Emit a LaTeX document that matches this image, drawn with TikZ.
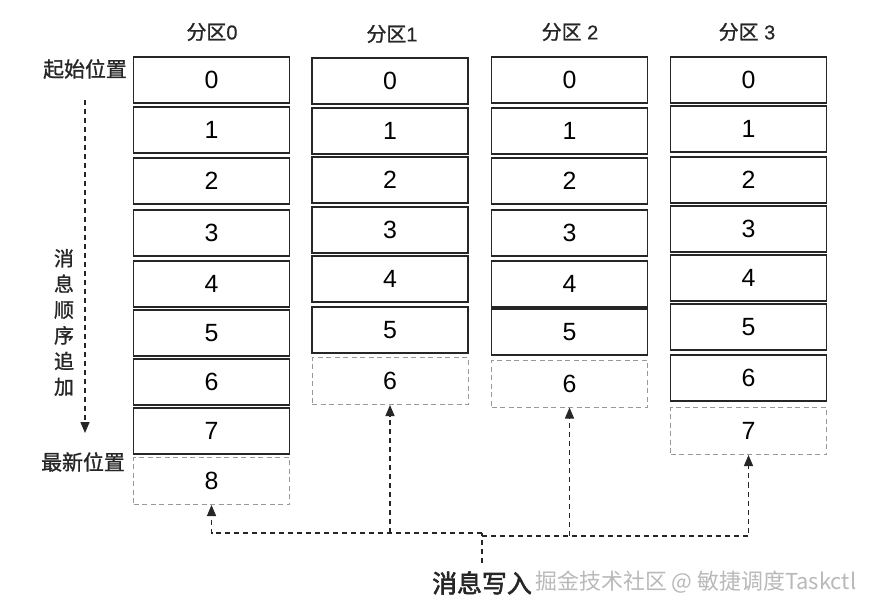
\documentclass[tikz,border=0pt]{standalone}
\usepackage{fontspec}
\setmainfont{Liberation Sans}
\newfontfamily\cjk{Noto Sans CJK SC}
\newfontfamily\cjkm[FakeBold=1.2]{Noto Sans CJK SC}
\newfontfamily\cjkb[FakeBold=2.2]{Noto Sans CJK SC}
\newfontfamily\latm[FakeBold=0.6]{Liberation Sans}
\usetikzlibrary{arrows.meta,shadows}
\begin{document}
\begin{tikzpicture}[x=1bp,y=-1bp,
  cell/.style={draw=black!85, line width=1.3bp, fill=white, minimum width=156bp, minimum height=46bp, inner sep=0pt,
    font=\fontsize{25}{25}\selectfont, drop shadow={shadow xshift=0.6bp, shadow yshift=-1.3bp, opacity=0.35}},
  newcell/.style={draw=gray!80, dash pattern=on 5bp off 3.5bp, line width=1bp, minimum width=156bp, minimum height=47bp, inner sep=0pt,
    font=\fontsize{25}{25}\selectfont},
  head/.style={font=\latm\fontsize{20}{20}\selectfont, text=black!85},
  side/.style={font=\cjkm\fontsize{21}{21}\selectfont, text=black!85},
  flowline/.style={dash pattern=on 5bp off 4bp, line width=1.3bp, draw=black!85},
  flow/.style={flowline, -{Triangle[width=9bp,length=11bp]}},
]
\useasboundingbox (0,0) rectangle (894,613);
\fill[white] (0,0) rectangle (894,613);

% headers
\node[head] (h0) at (212,32) {{\cjkm 分区}0};
\node[head] (h1) at (392,34) {{\cjkm 分区}1};
\node[head] (h2) at (570,32) {{\cjkm 分区} 2};
\node[head] (h3) at (747,32) {{\cjkm 分区} 3};

% column 0
\foreach \t [count=\i from 0] in {57,107,158,210,261,310,359,408}
  \node[cell] (c0b\i) at (211.5,\t+23) {\i};
\node[newcell] (c0b8) at (211.5,481) {8};
% column 1
\foreach \t [count=\i from 0] in {58,108,157,207,256,307}
  \node[cell] (c1b\i) at (390,\t+23) {\i};
\node[newcell] (c1b6) at (390,381) {6};
% column 2
\foreach \t [count=\i from 0] in {57,108,158,210,261,309}
  \node[cell] (c2b\i) at (569.5,\t+23) {\i};
\node[newcell] (c2b6) at (569.5,383.5) {6};
% column 3
\foreach \t [count=\i from 0] in {57,106,157,206,255,304,355}
  \node[cell] (c3b\i) at (748.5,\t+23) {\i};
\node[newcell] (c3b7) at (748.5,431) {7};

% left labels
\node[side] (start) at (85,69) {起始位置};
\node[side] (latest) at (83,462) {最新位置};
\node[font=\cjkm\fontsize{20}{25.8}\selectfont, align=center, text=black!85] (order) at (64,322.5) {消\\息\\顺\\序\\追\\加};
\coordinate (ls) at (85,100);
\coordinate (le) at (85,433);
\draw[flow] (ls) -- (le);

% bottom writer
\node[font=\cjkb\fontsize{25}{25}\selectfont, text=black!85] (w) at (482,583) {消息写入};
\node[anchor=west, font=\cjk\fontsize{22}{22}\selectfont, text=gray!55] (wm) at (532,582) {掘金技术社区 @ 敏捷调度Taskctl};
\coordinate (jl) at (482,533);
\coordinate (jr) at (482,536);
\coordinate (wt) at (482,563);
\draw[flowline] (wt) -- (jl);
\draw[flow] (jl) -| (c0b8.south);
\draw[flow] (c1b6.south |- jl) -- (c1b6.south);
\draw[flowline] (jl) -- (jr);
\draw[flow] (jr) -| (c3b7.south);
\draw[flow] (c2b6.south |- jr) -- (c2b6.south);
\end{tikzpicture}
\end{document}
